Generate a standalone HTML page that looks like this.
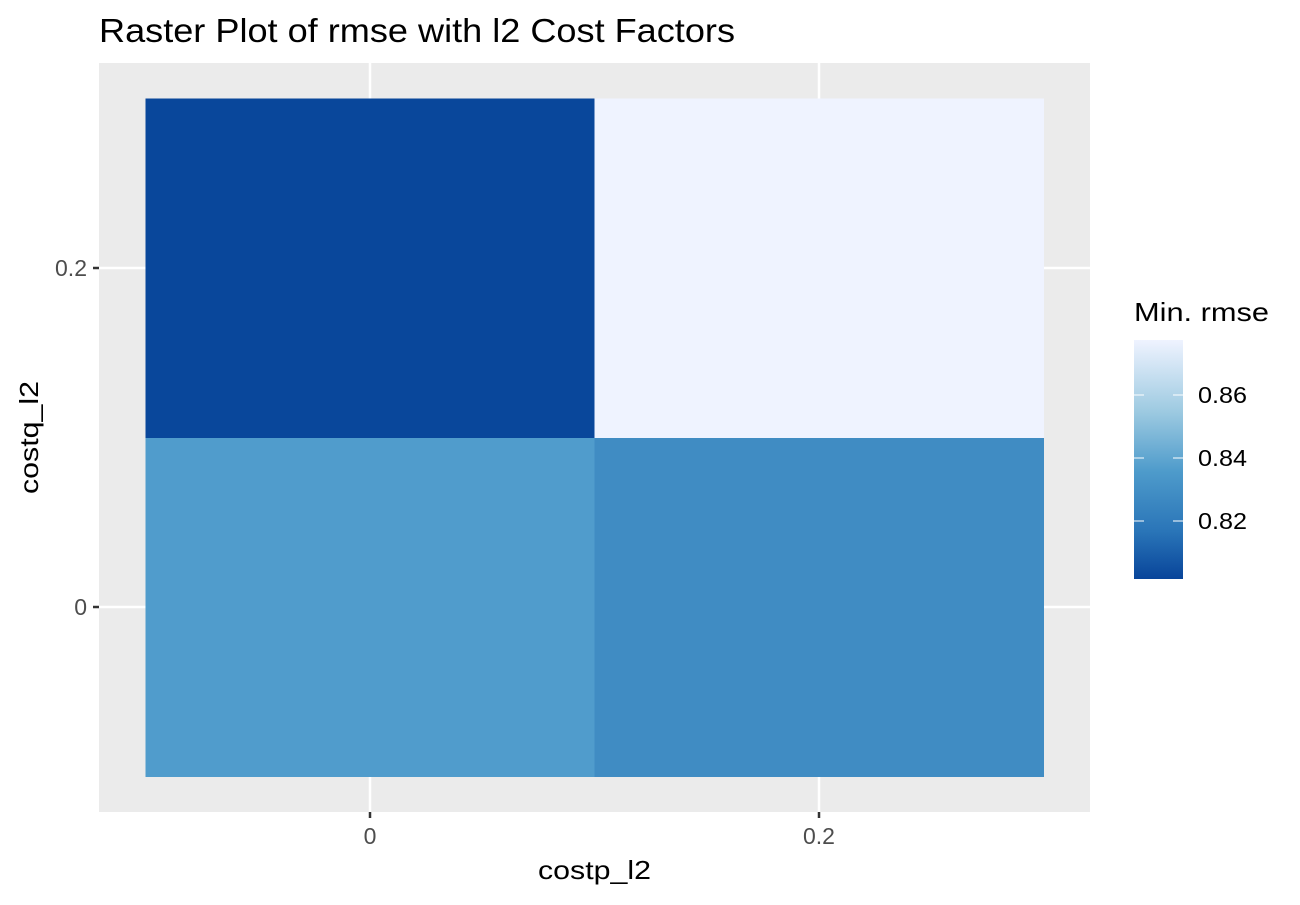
<!DOCTYPE html>
<html><head><meta charset="utf-8"><style>
body{margin:0;background:#fff;}
text{font-family:"Liberation Sans",sans-serif;}
</style></head><body>
<svg id="chart" width="1300" height="900" xmlns="http://www.w3.org/2000/svg">
<text x="99" y="42" font-size="33" textLength="636" lengthAdjust="spacingAndGlyphs" fill="#000">Raster Plot of rmse with l2 Cost Factors</text>
<rect x="99" y="63" width="991" height="749" fill="#EBEBEB"/>
<g id="grid"></g>
<g id="cells"></g>
<g id="axes"></g>
<text x="538" y="879" font-size="26" textLength="113" lengthAdjust="spacingAndGlyphs">costp_l2</text>
<text x="38" y="494" font-size="26" textLength="113" lengthAdjust="spacingAndGlyphs" transform="rotate(-90 38 494)">costq_l2</text>
<text x="1134" y="321" font-size="26" textLength="135" lengthAdjust="spacingAndGlyphs">Min. rmse</text>
<defs><linearGradient id="lg" x1="0" y1="1" x2="0" y2="0">
<stop offset="0" stop-color="#08459A"/><stop offset="0.2" stop-color="#2A75B8"/><stop offset="0.45" stop-color="#4E9BCB"/><stop offset="0.7" stop-color="#9DCAE1"/><stop offset="1" stop-color="#EFF3FF"/>
</linearGradient></defs>
<rect x="1134" y="340" width="49" height="239" fill="url(#lg)"/>
<g id="legend"></g>
</svg>
<script>
const xCats=[0,0.2];
const yCats=[0,0.2];
const xLabels=["0","0.2"];
const yLabels=["0","0.2"];
const rows=[[0.836,0.828],[0.802,0.877]]; // rows[yi][xi]
const legendTicks=[0.82,0.84,0.86];
const legendLabels=["0.82","0.84","0.86"];
const vmin=0.8015, vmax=0.877;
const NS="http://www.w3.org/2000/svg";
const xs=v=>370+(v-0)*(819-370)/0.2;
const ys=v=>607-(v-0)*(607-268)/0.2;
const ls=v=>458-(v-0.84)*(458-395)/0.02;
const stops=[[0,[8,69,154]],[0.2,[42,117,184]],[0.45,[78,155,203]],[0.7,[157,202,225]],[1,[239,243,255]]];
function col(v){let t=Math.max(0,Math.min(1,(v-vmin)/(vmax-vmin)));
for(let i=1;i<stops.length;i++){if(t<=stops[i][0]){const a=stops[i-1],b=stops[i];const f=(t-a[0])/(b[0]-a[0]);
return "rgb("+a[1].map((c,k)=>Math.round(c+(b[1][k]-c)*f)).join(",")+")";}}return "rgb(239,243,255)";}
function mk(tag,attrs,parent){const e=document.createElementNS(NS,tag);for(const k in attrs)e.setAttribute(k,attrs[k]);document.getElementById(parent).appendChild(e);return e;}
xCats.forEach(v=>{const e=mk("line",{x1:xs(v),x2:xs(v),y1:63,y2:812,stroke:"#fff","stroke-width":2.5},"grid");

});
yCats.forEach(v=>{const e=mk("line",{x1:99,x2:1090,y1:ys(v),y2:ys(v),stroke:"#fff","stroke-width":2.5},"grid");

});
const dx=xs(0.2)-xs(0), dy=ys(0)-ys(0.2);
rows.forEach((r,yi)=>r.forEach((v,xi)=>{
const e=mk("rect",{x:xs(xCats[xi])-dx/2,y:ys(yCats[yi])-dy/2,width:dx+0.5,height:dy+0.5,fill:col(v)},"cells");

}));
xCats.forEach((v,i)=>{mk("line",{x1:xs(v),x2:xs(v),y1:812,y2:818,stroke:"#333","stroke-width":2.5},"axes");
const t=mk("text",{x:xs(v),y:844,"font-size":23,"text-anchor":"middle",fill:"#4D4D4D"},"axes");t.textContent=xLabels[i];

});
yCats.forEach((v,i)=>{mk("line",{x1:93,x2:99,y1:ys(v),y2:ys(v),stroke:"#333","stroke-width":2.5},"axes");
const t=mk("text",{x:87,y:ys(v)+8,"font-size":23,"text-anchor":"end",fill:"#4D4D4D"},"axes");t.textContent=yLabels[i];

});
legendTicks.forEach((v,i)=>{const y=ls(v);
mk("line",{x1:1134,x2:1144,y1:y,y2:y,stroke:"#fff","stroke-width":1},"legend");
mk("line",{x1:1173,x2:1183,y1:y,y2:y,stroke:"#fff","stroke-width":1},"legend");
const t=mk("text",{x:1198,y:y+8,"font-size":23,textLength:49,lengthAdjust:"spacingAndGlyphs",fill:"#000"},"legend");t.textContent=legendLabels[i];

});
</script>
</body></html>
